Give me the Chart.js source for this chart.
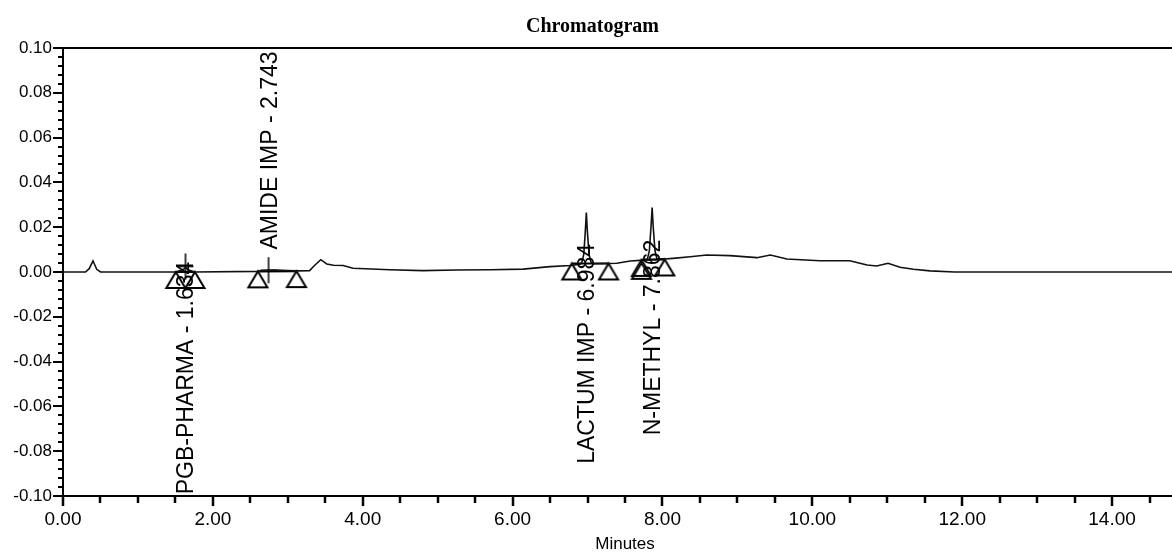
<!DOCTYPE html>
<html>
<head>
<meta charset="utf-8">
<title>Chromatogram</title>
<script src="https://cdn.jsdelivr.net/npm/chart.js@4.4.1/dist/chart.umd.min.js"></script>
<style>
  html, body { margin: 0; padding: 0; background: #fff; overflow: hidden; }
  #wrap { width: 1198px; height: 553px; position: relative; }
</style>
</head>
<body>
<div id="wrap"><canvas id="chromChart"></canvas></div>
<script>
// detector trace (minutes, AU)
var timeMin = [0, 0.30, 0.35, 0.40, 0.45, 0.50, 1.50, 1.60, 1.634, 1.67,
  1.76, 2.60, 2.743, 2.85, 3.00, 3.12, 3.29, 3.36, 3.44, 3.52,
  3.61, 3.74, 3.87, 4.36, 4.80, 5.25, 5.70, 6.14, 6.50, 6.77,
  6.90, 6.925, 6.95, 6.97, 6.984, 6.998, 7.02, 7.045, 7.07, 7.39,
  7.57, 7.75, 7.80, 7.825, 7.847, 7.862, 7.877, 7.90, 7.925, 8.03,
  8.14, 8.37, 8.59, 8.90, 9.26, 9.44, 9.66, 10.10, 10.50, 10.73,
  10.86, 11.01, 11.17, 11.35, 11.57, 11.90, 15.0];
var absorbAU = [0, 0, 0.0015, 0.005, 0.0012, 0, 0, 0.001, 0.002, 0.001,
  0, 0.0003, 0.0008, 0.0009, 0.0007, 0.0005, 0.0006, 0.003, 0.0055, 0.0036,
  0.003, 0.0029, 0.0017, 0.001, 0.0006, 0.0009, 0.001, 0.0013, 0.0024, 0.0029,
  0.0035, 0.0045, 0.008, 0.018, 0.0265, 0.018, 0.008, 0.0045, 0.0037, 0.0039,
  0.0049, 0.0053, 0.0058, 0.0095, 0.02, 0.0288, 0.02, 0.0095, 0.006, 0.0058,
  0.0061, 0.0068, 0.0076, 0.0073, 0.0064, 0.0076, 0.0058, 0.005, 0.005, 0.0031,
  0.0027, 0.0039, 0.0021, 0.0012, 0.0005, 0, 0];

// named peaks
var peakNames = ['PGB-PHARMA', 'AMIDE IMP', 'LACTUM IMP', 'N-METHYL'];
var peakRT = [1.634, 2.743, 6.984, 7.862];
var startT = [1.505, 2.60, 6.79, 7.72];
var startV = [0, 0.0003, 0.0038, 0.0054];
var endT = [1.76, 3.116, 7.28, 8.03];
var endV = [0, 0.0004, 0.0038, 0.0056];
var extraT = [7.72];
var extraV = [0.0041];
var crossT = [1.634, 2.743];
var crossV = [0.0025, 0.0008];

var xTicksMin = 0, xTicksMax = 15;
var yTicksMin = -0.1, yTicksMax = 0.1;

function isStep(v, step) {
    var q = v / step;
    return Math.abs(q - Math.round(q)) < 1e-6;
}

// marker images: triangle with its apex on the point, plus sign
function makeTriangle() {
    var c = document.createElement('canvas');
    c.width = 24; c.height = 40;
    var g = c.getContext('2d');
    g.strokeStyle = '#000';
    g.lineWidth = 2;
    g.beginPath();
    g.moveTo(12, 20);
    g.lineTo(21.5, 36);
    g.lineTo(2.5, 36);
    g.closePath();
    g.stroke();
    return c;
}
function makeCross() {
    var c = document.createElement('canvas');
    c.width = 18; c.height = 28;
    var g = c.getContext('2d');
    g.strokeStyle = '#000';
    g.lineWidth = 1.5;
    g.beginPath();
    g.moveTo(9, 1); g.lineTo(9, 27);
    g.moveTo(1, 14); g.lineTo(17, 14);
    g.stroke();
    return c;
}

var tracePts = timeMin.map(function (t, i) { return {x: t, y: absorbAU[i]}; });
var basePts = [];
var triPts = [];
for (var i = 0; i < peakRT.length; i++) {
    basePts.push({x: startT[i], y: startV[i]}, {x: endT[i], y: endV[i]}, {x: endT[i], y: null});
    triPts.push({x: startT[i], y: startV[i]}, {x: endT[i], y: endV[i]});
}
extraT.forEach(function (t, i) { triPts.push({x: t, y: extraV[i]}); });
var crossPts = crossT.map(function (t, i) { return {x: t, y: crossV[i]}; });

var peakLabels = {
    id: 'peakLabels',
    afterDatasetsDraw: function (chart, args, opts) {
        var ctx = chart.ctx, xs = chart.scales.x, ys = chart.scales.y;
        ctx.save();
        ctx.font = '23px "Liberation Sans", Arial, sans-serif';
        ctx.fillStyle = '#000';
        ctx.textBaseline = 'alphabetic';
        peakNames.forEach(function (name, i) {
            var px = xs.getPixelForValue(peakRT[i]) + 8;
            var py = ys.getPixelForValue(opts.anchor[i]);
            ctx.save();
            ctx.translate(px, py);
            ctx.rotate(-Math.PI / 2);
            ctx.textAlign = opts.side[i] === 'above' ? 'left' : 'right';
            ctx.fillText(name + ' - ' + peakRT[i].toFixed(3), 0, 0);
            ctx.restore();
        });
        ctx.restore();
    }
};

var axisTicks = {
    id: 'axisTicks',
    afterDraw: function (chart) {
        var ctx = chart.ctx, a = chart.chartArea;
        var xs = chart.scales.x, ys = chart.scales.y;
        ctx.save();
        ctx.strokeStyle = '#000';
        // frame line along the top
        ctx.lineWidth = 2;
        ctx.beginPath();
        ctx.moveTo(a.left, a.top);
        ctx.lineTo(a.right, a.top);
        ctx.stroke();
        // x ticks, every 0.5 min, long at each label
        ctx.lineWidth = 2.5;
        xs.ticks.forEach(function (t) {
            if (!isStep(t.value, 0.5)) return;
            var px = Math.round(xs.getPixelForValue(t.value));
            var len = isStep(t.value, 2) ? 10 : 7;
            ctx.beginPath();
            ctx.moveTo(px, a.bottom);
            ctx.lineTo(px, a.bottom + len);
            ctx.stroke();
        });
        // y ticks
        ctx.lineWidth = 2;
        ys.ticks.forEach(function (t) {
            var py = Math.round(ys.getPixelForValue(t.value));
            var len = isStep(t.value, 0.02) ? 10 : 5;
            ctx.beginPath();
            ctx.moveTo(a.left, py);
            ctx.lineTo(a.left - len, py);
            ctx.stroke();
        });
        ctx.restore();
    }
};

var ctx = document.getElementById('chromChart').getContext('2d');
var chart = new Chart(ctx, {
    type: 'scatter',
    data: {
        datasets: [{
            label: 'Trace',
            data: tracePts,
            showLine: true,
            borderColor: '#111',
            borderWidth: 1.6,
            pointRadius: 0,
            tension: 0
        }, {
            label: 'Baselines',
            data: basePts,
            showLine: true,
            spanGaps: false,
            borderColor: '#000',
            borderWidth: 2.2,
            pointRadius: 0
        }, {
            label: 'Peak start/end',
            data: triPts,
            showLine: false,
            pointStyle: makeTriangle(),
            pointRadius: 10
        }, {
            label: 'Apex',
            data: crossPts,
            showLine: false,
            pointStyle: makeCross(),
            pointRadius: 10
        }]
    },
    options: {
        responsive: true,
        maintainAspectRatio: false,
        animation: false,
        layout: { padding: { left: -13, right: 0, top: 0, bottom: 0 } },
        plugins: {
            legend: { display: false },
            tooltip: { enabled: false },
            title: {
                display: true,
                text: 'Chromatogram',
                color: '#000',
                font: { family: '"Liberation Serif", "Times New Roman", serif', size: 20, weight: 'bold' },
                padding: { top: 15, bottom: 9 }
            },
            peakLabels: {
                anchor: [0.0046, 0.010, 0.0125, 0.0144],
                side: ['below', 'above', 'below', 'below']
            }
        },
        scales: {
            x: {
                type: 'linear',
                min: xTicksMin,
                max: xTicksMax,
                afterFit: function (s) { s.height = 57; s.paddingRight = 0; },
                border: { display: true, color: '#000', width: 2 },
                grid: { drawOnChartArea: false, drawTicks: true, tickLength: 8, tickColor: 'rgba(0,0,0,0)' },
                ticks: {
                    stepSize: 0.5,
                    maxTicksLimit: 100,
                    autoSkip: false,
                    maxRotation: 0,
                    padding: 4,
                    color: '#000',
                    font: { family: '"Liberation Sans", Arial, sans-serif', size: 19 },
                    callback: function (v) { return isStep(v, 2) ? v.toFixed(2) : ''; }
                },
                title: {
                    display: true,
                    text: 'Minutes',
                    color: '#000',
                    font: { family: '"Liberation Sans", Arial, sans-serif', size: 17 },
                    padding: { top: 0, bottom: -2 }
                }
            },
            y: {
                min: yTicksMin,
                max: yTicksMax,
                afterFit: function (s) { s.width = 76; },
                border: { display: true, color: '#000', width: 2 },
                grid: { drawOnChartArea: false, drawTicks: true, tickLength: 10, tickColor: 'rgba(0,0,0,0)' },
                ticks: {
                    stepSize: 0.004,
                    maxTicksLimit: 100,
                    autoSkip: false,
                    padding: 1,
                    color: '#000',
                    font: { family: '"Liberation Sans", Arial, sans-serif', size: 17 },
                    callback: function (v) { return isStep(v, 0.02) ? v.toFixed(2) : ''; }
                }
            }
        }
    },
    plugins: [peakLabels, axisTicks]
});
</script>
</body>
</html>
